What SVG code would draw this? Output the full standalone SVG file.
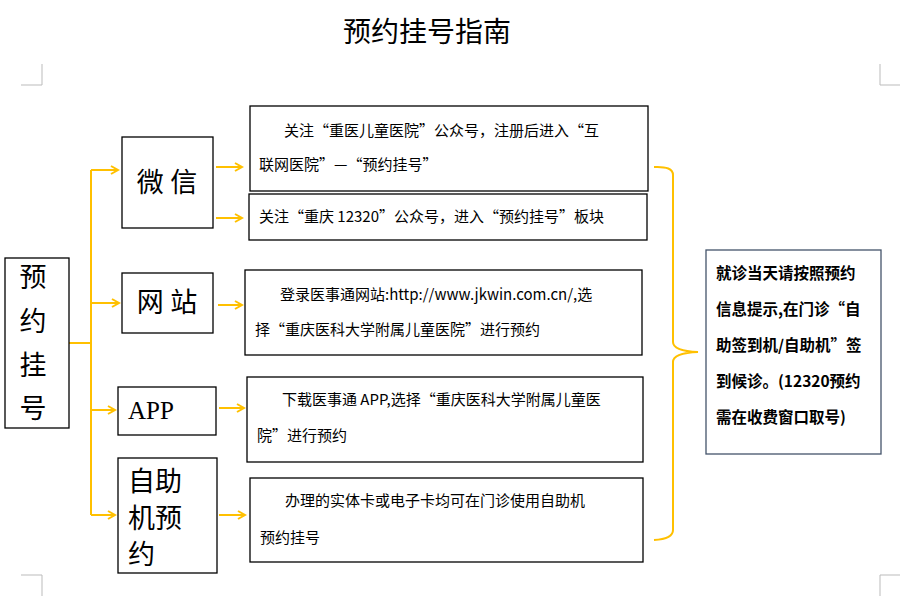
<svg xmlns="http://www.w3.org/2000/svg" width="923" height="596" viewBox="0 0 923 596">
<style>
text{font-family:"Liberation Serif","Noto Sans CJK SC",serif;fill:#000}
.b{fill:#fff;stroke:#000;stroke-width:1.3}
.c{fill:none;stroke:#ffc000;stroke-width:2}
.m{fill:none;stroke:#bbb;stroke-width:1}
.t{font-size:15px;font-family:"Noto Sans CJK SC",sans-serif}
.big{font-size:27px}
.n text{font-family:"Noto Sans CJK SC",sans-serif}
</style>
<defs><marker id="a" markerWidth="10" markerHeight="10" refX="8" refY="5" orient="auto" markerUnits="userSpaceOnUse"><path d="M1,1 L8,5 L1,9" fill="none" stroke="#ffc000" stroke-width="2"/></marker></defs>
<text x="427" y="42" text-anchor="middle" font-size="28">预约挂号指南</text>
<g class="m"><path d="M42,64V85H21M880,64V85H900M42,596V575H21M880,596V575H900"/></g>
<g id="connectors" class="c">
<path d="M69,343H91M91,170V515"/>
<path d="M91,170H118" marker-end="url(#a)"/><path d="M91,303H119" marker-end="url(#a)"/><path d="M91,410H115" marker-end="url(#a)"/><path d="M91,515H115" marker-end="url(#a)"/>
<path d="M216,167H242" marker-end="url(#a)"/><path d="M216,218H242" marker-end="url(#a)"/><path d="M218,305H242" marker-end="url(#a)"/><path d="M219,408H244" marker-end="url(#a)"/><path d="M219,515H245" marker-end="url(#a)"/>
<path d="M654,167Q673,166 673,175V342Q673,351 698,352Q673,353 673,362V530Q673,539 654,540"/>
</g>
<g id="root"><rect class="b" x="5" y="258" width="64" height="170"/>
<text class="big" x="33" y="287" text-anchor="middle">预</text><text class="big" x="33" y="331" text-anchor="middle">约</text><text class="big" x="33" y="375" text-anchor="middle">挂</text><text class="big" x="33" y="418" text-anchor="middle">号</text></g>
<g id="weixin"><rect class="b" x="122" y="137" width="91" height="91"/><text class="big" x="167" y="192" text-anchor="middle">微 信</text></g>
<g id="wangzhan"><rect class="b" x="122" y="273" width="91" height="60"/><text class="big" x="167" y="312" text-anchor="middle">网 站</text></g>
<g id="app"><rect class="b" x="118" y="387" width="98" height="48"/><text x="128" y="419" font-size="25">APP</text></g>
<g id="zizhu"><rect class="b" x="118" y="458" width="99" height="115"/><text class="big" x="128" y="491">自助</text><text class="big" x="128" y="528">机预</text><text class="big" x="128" y="564">约</text></g>
<g id="n1"><rect class="b" x="250" y="106" width="398" height="85"/><text class="t" x="284" y="136">关注“重医儿童医院”公众号，注册后进入“互</text><text class="t" x="259" y="170">联网医院”—“预约挂号”</text></g>
<g id="n2"><rect class="b" x="249" y="194" width="398" height="46"/><text class="t" x="259" y="222">关注“重庆 12320”公众号，进入“预约挂号”板块</text></g>
<g id="n3"><rect class="b" x="245" y="270" width="397" height="85"/><text class="t" x="280" y="300">登录医事通网站:http://www.jkwin.com.cn/,选</text><text class="t" x="255" y="335">择“重庆医科大学附属儿童医院”进行预约</text></g>
<g id="n4"><rect class="b" x="247" y="377" width="396" height="85"/><text class="t" x="282" y="405">下载医事通 APP,选择“重庆医科大学附属儿童医</text><text class="t" x="257" y="441">院”进行预约</text></g>
<g id="n5"><rect class="b" x="250" y="478" width="393" height="84"/><text class="t" x="285" y="506">办理的实体卡或电子卡均可在门诊使用自助机</text><text class="t" x="260" y="543">预约挂号</text></g>
<g id="note" class="n"><rect x="706" y="250" width="175" height="204" fill="#fff" stroke="#44546a" stroke-width="1.3"/>
<g font-size="15.5" font-weight="bold"><text x="716" y="279">就诊当天请按照预约</text><text x="716" y="315">信息提示,在门诊“自</text><text x="716" y="351">助签到机/自助机”签</text><text x="716" y="387">到候诊。(12320预约</text><text x="716" y="423">需在收费窗口取号)</text></g></g>
</svg>
